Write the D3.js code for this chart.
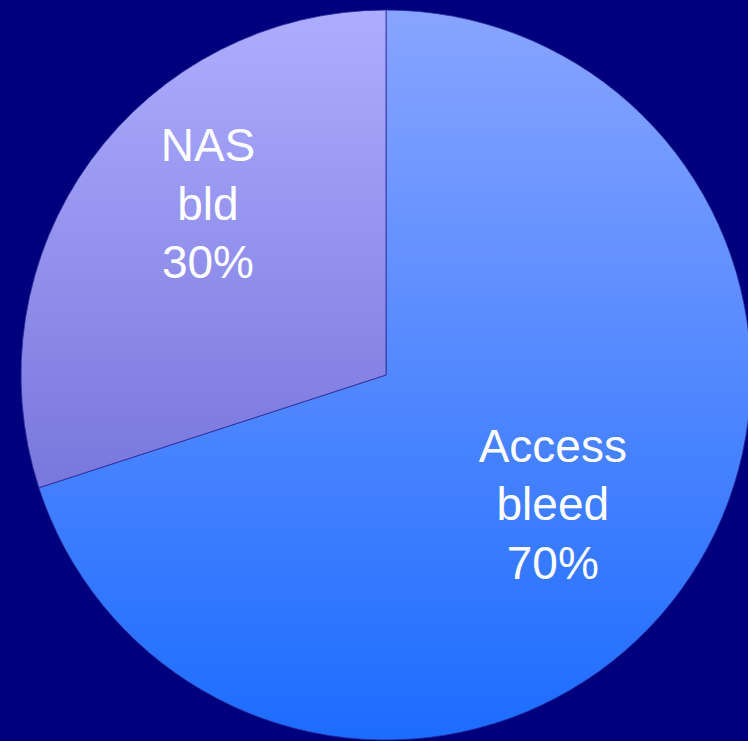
<!DOCTYPE html>
<html>
<head>
<meta charset="utf-8">
<script src="https://cdn.jsdelivr.net/npm/d3@7"></script>
<style>
  html, body { margin: 0; padding: 0; background: #00007f; }
  svg { display: block; }
</style>
</head>
<body>
<svg id="chart" width="748" height="741"></svg>
<script>
// Share of bleeding events by source
const categories = ["Access bleed", "NAS bld"];
const labelLines = [["Access", "bleed", "70%"], ["NAS", "bld", "30%"]];
const values = [70, 30];

// Vertical gradient stops (top, bottom) for each slice
const gradTop = ["#88a4ff", "#adadff"];
const gradBottom = ["#1c6cff", "#5c5ac9"];

const width = 748, height = 741;
const cx = 386, cy = 375, radius = 365;

const svg = d3.select("#chart");
svg.append("rect").attr("width", width).attr("height", height).attr("fill", "#00007f");

// Gradients span the full pie height, in the slice's local (centred) coordinates
const defs = svg.append("defs");
categories.forEach((c, i) => {
  const g = defs.append("linearGradient")
    .attr("id", "grad" + i)
    .attr("gradientUnits", "userSpaceOnUse")
    .attr("x1", 0).attr("y1", -radius)
    .attr("x2", 0).attr("y2", radius);
  g.append("stop").attr("offset", "0%").attr("stop-color", gradTop[i]);
  g.append("stop").attr("offset", "100%").attr("stop-color", gradBottom[i]);
});

const pie = d3.pie().sort(null).value(d => d)(values);
const arc = d3.arc().innerRadius(0).outerRadius(radius);

const g = svg.append("g").attr("transform", `translate(${cx},${cy})`);
g.selectAll("path.slice")
  .data(pie)
  .join("path")
  .attr("class", "slice")
  .attr("d", arc)
  .attr("fill", (d, i) => `url(#grad${i})`)
  .attr("stroke", "#2a2a9a")
  .attr("stroke-width", 0.8);

// Label placement: angle (fraction along slice) and distance from centre
const labelPos = [{ t: 0.507, r: 211 }, { t: 0.573, r: 247 }];
const fontSize = 46, lineH = 58.5;

pie.forEach((d, i) => {
  const a = d.startAngle + (d.endAngle - d.startAngle) * labelPos[i].t;
  const x = cx + labelPos[i].r * Math.sin(a);
  const y = cy - labelPos[i].r * Math.cos(a);
  const t = svg.append("text")
    .attr("text-anchor", "middle")
    .attr("font-family", "'Liberation Sans', Arial, sans-serif")
    .attr("font-size", fontSize)
    .attr("fill", "#ffffff");
  labelLines[i].forEach((line, k) => {
    t.append("tspan")
      .attr("x", x)
      .attr("y", y + 16 + (k - 1) * lineH)
      .text(line);
  });
});
</script>
</body>
</html>
